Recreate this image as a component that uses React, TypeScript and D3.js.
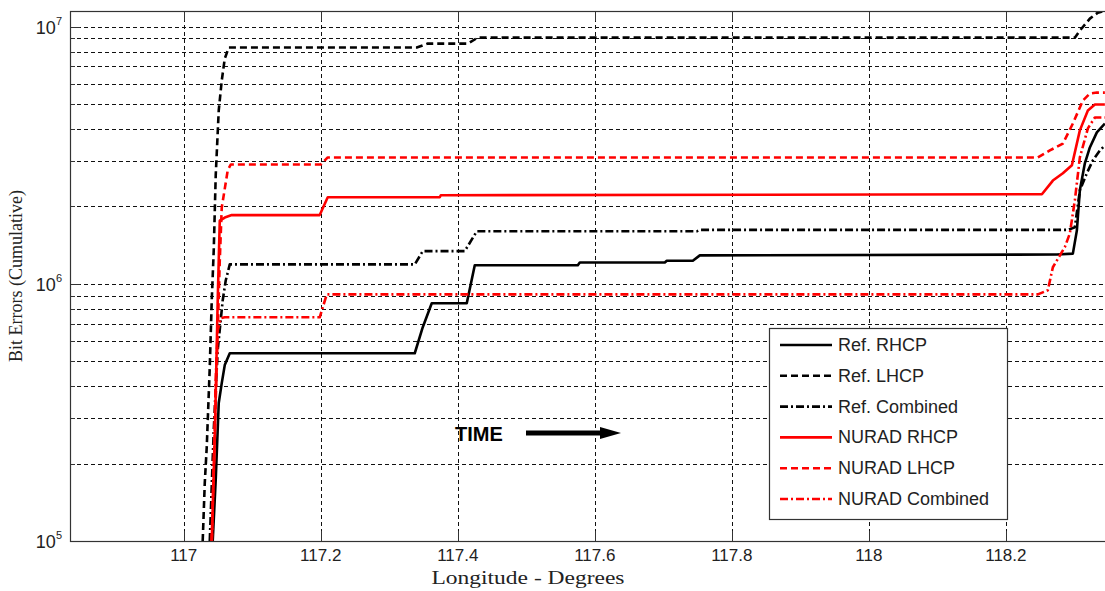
import React from 'react';
import * as d3 from 'd3';

// axis ticks
const xTicks = [117, 117.2, 117.4, 117.6, 117.8, 118, 118.2];
const yDecades = [5, 6, 7];

// [longitude, cumulative bit errors]
const refRHCP = [
  [117.0423, 1.0e5], [117.0467, 1.73e5], [117.0511, 3.44e5], [117.0555, 4.11e5], [117.0599, 4.83e5],
  [117.0672, 5.37e5], [117.3372, 5.37e5], [117.3489, 6.78e5], [117.362, 8.4e5], [117.4131, 8.4e5],
  [117.4248, 1.18e6], [117.5752, 1.18e6], [117.5781, 1.21e6], [117.7022, 1.21e6], [117.7051, 1.23e6],
  [117.7431, 1.23e6], [117.7533, 1.29e6], [118.2745, 1.3e6], [118.2978, 1.31e6], [118.3036, 1.61e6],
  [118.308, 2.31e6], [118.3153, 2.94e6], [118.3226, 3.39e6], [118.3328, 3.88e6], [118.3445, 4.2e6],
];
const refLHCP = [
  [117.0277, 1.0e5], [117.0307, 1.68e5], [117.0336, 2.32e5], [117.038, 4.74e5], [117.0409, 8.63e5],
  [117.0438, 1.35e6], [117.0467, 2.64e6], [117.0511, 4.72e6], [117.0555, 6.17e6], [117.0599, 7.51e6],
  [117.0657, 8.29e6], [117.3401, 8.29e6], [117.3562, 8.59e6], [117.4146, 8.59e6], [117.4292, 9.06e6],
  [118.3007, 9.06e6], [118.308, 9.65e6], [118.3226, 1.074e7], [118.3343, 1.133e7], [118.3445, 1.154e7],
];
const refCombined = [
  [117.038, 1.0e5], [117.0438, 2.7e5], [117.0496, 5.52e5], [117.0569, 8.63e5], [117.0613, 1.03e6],
  [117.0672, 1.19e6], [117.3372, 1.19e6], [117.3489, 1.34e6], [117.4102, 1.34e6], [117.4277, 1.6e6],
  [117.7489, 1.6e6], [117.7533, 1.62e6], [118.2905, 1.62e6], [118.3007, 1.66e6], [118.308, 2.31e6],
  [118.3182, 2.69e6], [118.327, 3.02e6], [118.3372, 3.3e6], [118.3445, 3.45e6],
];
const nuradRHCP = [
  [117.0409, 1.0e5], [117.0453, 2.47e5], [117.0496, 8.63e5], [117.0526, 1.76e6], [117.0599, 1.81e6],
  [117.0701, 1.85e6], [117.1985, 1.85e6], [117.2102, 2.17e6], [117.3737, 2.17e6], [117.3752, 2.21e6],
  [118.2526, 2.23e6], [118.2686, 2.52e6], [118.2832, 2.69e6], [118.2964, 2.89e6], [118.308, 3.95e6],
  [118.3197, 4.72e6], [118.3299, 4.98e6], [118.3445, 4.98e6],
];
const nuradLHCP = [
  [117.0409, 1.0e5], [117.0467, 3.53e5], [117.0526, 1.23e6], [117.0555, 1.98e6], [117.0642, 2.76e6],
  [117.0686, 2.91e6], [117.2, 2.91e6], [117.2102, 3.1e6], [118.2467, 3.1e6], [118.2642, 3.3e6],
  [118.2832, 3.51e6], [118.2978, 4.2e6], [118.3124, 5.16e6], [118.3226, 5.49e6], [118.3328, 5.54e6],
  [118.3445, 5.54e6],
];
const nuradCombined = [
  [117.0409, 1.0e5], [117.0467, 4.22e5], [117.0496, 6.6e5], [117.054, 7.35e5], [117.0599, 7.41e5],
  [117.1985, 7.41e5], [117.2088, 9.1e5], [118.2467, 9.1e5], [118.2613, 9.44e5], [118.2686, 1.16e6],
  [118.2861, 1.39e6], [118.2934, 1.57e6], [118.3007, 2.11e6], [118.308, 3.1e6], [118.3197, 4.02e6],
  [118.3299, 4.43e6], [118.3445, 4.43e6],
];

const DASHED = '7,4';
const DASHDOT = '8,3,2,3';

const series = [
  { name: 'Ref. RHCP', data: refRHCP, color: '#000000', dash: null },
  { name: 'Ref. LHCP', data: refLHCP, color: '#000000', dash: DASHED },
  { name: 'Ref. Combined', data: refCombined, color: '#000000', dash: DASHDOT },
  { name: 'NURAD RHCP', data: nuradRHCP, color: '#ff0000', dash: null },
  { name: 'NURAD LHCP', data: nuradLHCP, color: '#ff0000', dash: DASHED },
  { name: 'NURAD Combined', data: nuradCombined, color: '#ff0000', dash: DASHDOT },
];

const W = 1105;
const H = 591;
const margin = { top: 11, right: -5, bottom: 50, left: 70 };

const App = () => {
  const left = margin.left;
  const right = W - margin.right;
  const top = margin.top;
  const bottom = H - margin.bottom;

  const x = d3.scaleLinear().domain([116.834, 118.352]).range([left, right]);
  const y = d3.scaleLog().domain([1e5, 1.15e7]).range([bottom, top]);

  const line = d3.line<number[]>()
    .x(d => x(d[0]))
    .y(d => y(d[1]));

  // log ticks 1..9 for each decade inside the domain
  const yMinor: number[] = [];
  yDecades.forEach(e => {
    for (let m = 1; m <= 9; m++) {
      const v = m * Math.pow(10, e);
      if (v >= 1e5 && v <= 1.15e7) yMinor.push(v);
    }
  });

  const axisColor = '#333';
  const font = 'Liberation Sans, Arial, sans-serif';
  const serif = 'Liberation Serif, Times New Roman, serif';

  const legend = { x: 769, y: 328, w: 238, h: 191, row: 30.8 };

  return (
    <svg width={W} height={H} style={{ position: 'absolute', left: 0, top: 0, background: '#fff' }}>
      <defs>
        <clipPath id="plot">
          <rect x={left} y={top} width={right - left} height={bottom - top} />
        </clipPath>
      </defs>
      <rect x={0} y={0} width={W} height={H} fill="#fff" />

      {/* grid */}
      <g stroke="#111" strokeWidth={1} strokeDasharray="4,3" shapeRendering="crispEdges">
        {yMinor.map(v => (
          <line key={'gy' + v} x1={left} x2={right} y1={Math.round(y(v)) + 0.5} y2={Math.round(y(v)) + 0.5} />
        ))}
        {xTicks.map(t => (
          <line key={'gx' + t} x1={Math.round(x(t)) + 0.5} x2={Math.round(x(t)) + 0.5} y1={top} y2={bottom} />
        ))}
      </g>

      {/* ticks */}
      <g stroke={axisColor} strokeWidth={1} shapeRendering="crispEdges">
        {yMinor.map(v => {
          const major = yDecades.some(e => Math.pow(10, e) === v);
          const len = major ? 10 : 5;
          const yy = Math.round(y(v)) + 0.5;
          return <line key={'ty' + v} x1={left} x2={left + len} y1={yy} y2={yy} />;
        })}
        {xTicks.map(t => {
          const xx = Math.round(x(t)) + 0.5;
          return (
            <g key={'tx' + t}>
              <line x1={xx} x2={xx} y1={bottom} y2={bottom - 10} />
              <line x1={xx} x2={xx} y1={top} y2={top + 10} />
            </g>
          );
        })}
      </g>

      {/* series */}
      <g clipPath="url(#plot)" fill="none">
        {series.map(s => (
          <path
            key={s.name}
            d={line(s.data) || ''}
            stroke={s.color}
            strokeWidth={2.6}
            strokeDasharray={s.dash || undefined}
            strokeLinejoin="round"
          />
        ))}
      </g>

      {/* frame */}
      <rect x={left + 0.5} y={top + 0.5} width={right - left} height={bottom - top}
        fill="none" stroke={axisColor} strokeWidth={1.2} />

      {/* tick labels */}
      <g fill="#222" fontFamily={font} fontSize={17}>
        {xTicks.map(t => (
          <text key={'lx' + t} x={x(t)} y={bottom + 20} textAnchor="middle">{d3.format('')(t)}</text>
        ))}
        {yDecades.map(e => (
          <text key={'ly' + e} x={62} y={y(Math.pow(10, e)) + 7} textAnchor="end" fontSize={18}>
            10<tspan dy={-9} fontSize={11}>{e}</tspan>
          </text>
        ))}
      </g>

      {/* axis titles */}
      <text x={528} y={584} textAnchor="middle" fontFamily={serif} fontSize={19} fill="#222"
        textLength={193} lengthAdjust="spacingAndGlyphs">
        Longitude - Degrees
      </text>
      <text transform={`translate(22, ${(top + bottom) / 2}) rotate(-90)`} textAnchor="middle"
        fontFamily={serif} fontSize={18} fill="#222">
        Bit Errors (Cumulative)
      </text>

      {/* TIME annotation */}
      <text x={455} y={441} fontFamily={font} fontWeight="bold" fontSize={20} fill="#000">TIME</text>
      <line x1={526} x2={606} y1={433} y2={433} stroke="#000" strokeWidth={5} />
      <path d="M600,427 L621,433 L600,439 Z" fill="#000" />

      {/* legend */}
      <g>
        <rect x={legend.x + 0.5} y={legend.y + 0.5} width={legend.w} height={legend.h}
          fill="#fff" stroke={axisColor} strokeWidth={1.2} />
        {series.map((s, i) => {
          const yy = legend.y + 17 + i * legend.row;
          return (
            <g key={'lg' + s.name}>
              <line x1={780} x2={832} y1={yy} y2={yy} stroke={s.color} strokeWidth={2.6}
                strokeDasharray={s.dash || undefined} />
              <text x={838} y={yy + 6} fontFamily={font} fontSize={18} fill="#222">{s.name}</text>
            </g>
          );
        })}
      </g>
    </svg>
  );
};

export default App;
